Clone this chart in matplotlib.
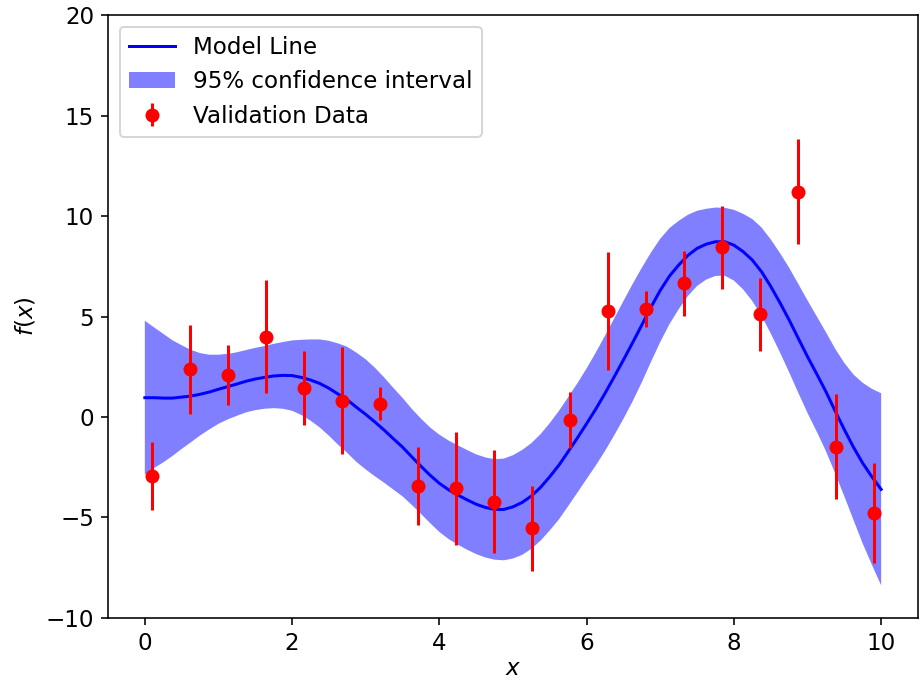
import numpy as np
import matplotlib
matplotlib.use("Agg")
import matplotlib.pyplot as plt

plt.rcParams['font.size'] = 11.5

# validation data
x_obs = [0.1, 0.616, 1.132, 1.647, 2.163, 2.679, 3.195, 3.711, 4.226, 4.742,
         5.258, 5.774, 6.289, 6.805, 7.321, 7.837, 8.353, 8.868, 9.384, 9.9]
y_obs = [-2.92, 2.37, 2.1, 4.0, 1.46, 0.81, 0.65, -3.42, -3.55, -4.21,
         -5.54, -0.15, 5.29, 5.37, 6.65, 8.44, 5.12, 11.21, -1.48, -4.79]
dy_obs = [1.69, 2.21, 1.48, 2.82, 1.84, 2.66, 0.82, 1.93, 2.82, 2.57,
          2.12, 1.38, 2.94, 0.9, 1.62, 2.07, 1.82, 2.62, 2.62, 2.49]

# model line (read every 0.125) and half width of the 95% band
x_model = [0.0, 0.125, 0.25, 0.375, 0.5, 0.625, 0.75, 0.875,
           1.0, 1.125, 1.25, 1.375, 1.5, 1.625, 1.75, 1.875,
           2.0, 2.125, 2.25, 2.375, 2.5, 2.625, 2.75, 2.875,
           3.0, 3.125, 3.25, 3.375, 3.5, 3.625, 3.75, 3.875,
           4.0, 4.125, 4.25, 4.375, 4.5, 4.625, 4.75, 4.875,
           5.0, 5.125, 5.25, 5.375, 5.5, 5.625, 5.75, 5.875,
           6.0, 6.125, 6.25, 6.375, 6.5, 6.625, 6.75, 6.875,
           7.0, 7.125, 7.25, 7.375, 7.5, 7.625, 7.75, 7.875,
           8.0, 8.125, 8.25, 8.375, 8.5, 8.625, 8.75, 8.875,
           9.0, 9.125, 9.25, 9.375, 9.5, 9.625, 9.75, 9.875, 10.0]
y_model = [0.96, 0.96, 0.94, 0.94, 0.99, 1.04, 1.13, 1.24,
           1.38, 1.51, 1.64, 1.78, 1.89, 1.97, 2.04, 2.07,
           2.06, 1.97, 1.84, 1.67, 1.43, 1.14, 0.85, 0.48,
           0.13, -0.25, -0.65, -1.08, -1.5, -1.98, -2.45, -2.9,
           -3.3, -3.62, -3.88, -4.12, -4.34, -4.5, -4.6, -4.6,
           -4.47, -4.25, -3.93, -3.5, -2.97, -2.39, -1.72, -1.04,
           -0.33, 0.4, 1.18, 2.0, 2.84, 3.7, 4.58, 5.47,
           6.3, 7.01, 7.56, 8.04, 8.39, 8.6, 8.72, 8.72,
           8.55, 8.23, 7.81, 7.23, 6.5, 5.69, 4.83, 3.91,
           3.0, 2.14, 1.26, 0.3, -0.63, -1.51, -2.3, -2.98, -3.6]
half_width = [3.83, 3.5, 3.2, 2.88, 2.58, 2.3, 2.05, 1.86,
              1.72, 1.63, 1.58, 1.55, 1.55, 1.56, 1.6, 1.66,
              1.75, 1.87, 2.02, 2.19, 2.36, 2.52, 2.64, 2.72,
              2.74, 2.7, 2.62, 2.53, 2.45, 2.39, 2.37, 2.38,
              2.42, 2.45, 2.47, 2.48, 2.48, 2.49, 2.5, 2.53,
              2.57, 2.61, 2.63, 2.65, 2.67, 2.7, 2.71, 2.72,
              2.75, 2.81, 2.87, 2.91, 2.93, 2.92, 2.85, 2.72,
              2.57, 2.39, 2.2, 2.02, 1.87, 1.76, 1.7, 1.69,
              1.76, 1.88, 2.04, 2.2, 2.34, 2.47, 2.6, 2.71,
              2.8, 2.87, 2.96, 3.1, 3.32, 3.62, 4.0, 4.38, 4.78]

xm = np.array(x_model)
ym = np.array(y_model)
hw = np.array(half_width)

fig = plt.figure(figsize=(920 / 144, 683 / 144), dpi=144)
ax = fig.add_subplot(111)
fig.subplots_adjust(left=0.1174, right=0.9978, bottom=0.0952, top=0.978)

ax.plot(xm, ym, 'b-', label='Model Line')
ax.fill_between(xm, ym - hw, ym + hw, alpha=0.5, fc='b', ec='None',
                label='95% confidence interval')
ax.errorbar(x_obs, y_obs, dy_obs, fmt='ro', label='Validation Data')

ax.set_xlabel('$x$', labelpad=1)
ax.set_ylabel('$f(x)$')
ax.set_xlim(-0.5, 10.5)
ax.set_ylim(-10, 20)
ax.legend(loc='upper left')

fig.savefig('out.png', dpi=144)
